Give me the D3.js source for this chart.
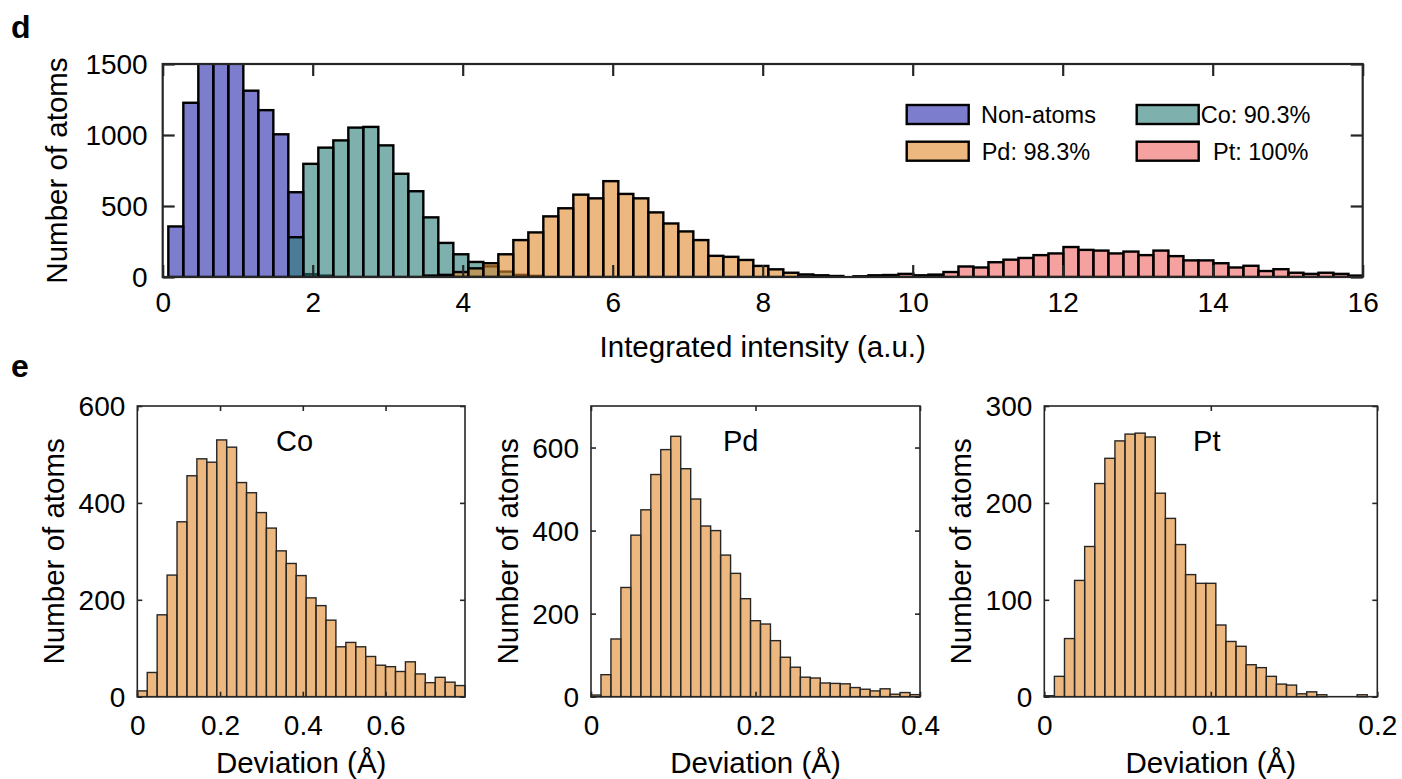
<!DOCTYPE html>
<html>
<head>
<meta charset="utf-8">
<script src="https://cdn.jsdelivr.net/npm/d3@7/dist/d3.min.js"></script>
<style>
  html, body { margin: 0; padding: 0; background: #fff; }
  svg { display: block; font-family: "Liberation Sans", Arial, Helvetica, sans-serif; }
</style>
</head>
<body>
<svg id="chart" width="1402" height="779"></svg>
<script>
// ---------------- DATA ----------------
// Panel d: integrated-intensity histograms (bin width 0.2 a.u.)
const intensityBinWidth = 0.2;
const nonAtomsStart = 0.075;
const nonAtomsCounts = [356, 1227, 1620, 1650, 1600, 1312, 1175, 1005, 597, 20, 10];
const coIntStart = 1.675;
const coIntCounts = [280, 797, 911, 962, 1052, 1057, 927, 727, 604, 420, 240, 160, 106, 75, 38, 15, 8];
const pdIntStart = 3.475;
const pdIntCounts = [10, 15, 35, 61, 97, 160, 260, 314, 427, 484, 580, 554, 675, 585, 554, 455, 377, 321, 260, 149, 142, 120, 78, 54, 30, 18, 12, 7];
const ptIntStart = 9.21;
const ptIntCounts = [5, 12, 14, 22, 12, 17, 35, 74, 67, 104, 122, 134, 154, 166, 211, 191, 186, 166, 179, 154, 186, 147, 117, 117, 97, 67, 79, 42, 55, 30, 22, 30, 22, 10];
const legendLabels = ["Non-atoms", "Co: 90.3%", "Pd: 98.3%", "Pt: 100%"];
const intensityXTicks = [0, 2, 4, 6, 8, 10, 12, 14, 16];
const intensityYTicks = [0, 500, 1000, 1500];

// Panel e: deviation histograms
const panelNames = ["Co", "Pd", "Pt"];
const coDevBinWidth = 0.024;
const coDevCounts = [12, 50, 169, 251, 361, 456, 491, 484, 530, 515, 442, 421, 380, 348, 301, 275, 250, 204, 188, 158, 103, 112, 103, 83, 65, 62, 52, 72, 47, 29, 40, 30, 23];
const pdDevBinWidth = 0.4 / 33;
const pdDevCounts = [4, 53, 139, 263, 389, 450, 535, 595, 627, 549, 476, 411, 400, 341, 297, 236, 183, 175, 135, 95, 71, 47, 45, 33, 32, 31, 22, 18, 14, 19, 6, 10, 5];
const ptDevBinWidth = 0.2 / 33;
const ptDevCounts = [1, 21, 60, 120, 155, 220, 246, 264, 271, 272, 268, 210, 184, 157, 126, 117, 117, 74, 57, 52, 33, 30, 21, 13, 12, 3, 5, 2, 0, 0, 0, 2, 0];
const coDevXTicks = [0, 0.2, 0.4, 0.6];
const pdDevXTicks = [0, 0.2, 0.4];
const ptDevXTicks = [0, 0.1, 0.2];
const coDevYTicks = [0, 200, 400, 600];
const pdDevYTicks = [0, 200, 400, 600];
const ptDevYTicks = [0, 100, 200, 300];

// ---------------- DRAW ----------------
const svg = d3.select("#chart");
const AX = "#262626";
const FONT_TICK = 28;
const FONT_LABEL = 29.5;

// ----- Panel d -----
const d = { left: 162.7, right: 1362.7, top: 64, bottom: 277 };
const xD = d3.scaleLinear().domain([0, 16]).range([d.left, d.right]);
const yD = d3.scaleLinear().domain([0, 1500]).range([d.bottom, d.top]);

svg.append("defs").append("clipPath").attr("id", "clipD")
  .append("rect").attr("x", d.left).attr("y", d.top)
  .attr("width", d.right - d.left).attr("height", d.bottom - d.top);

const seriesD = [
  { name: legendLabels[0], start: nonAtomsStart, counts: nonAtomsCounts, color: "#2626ad" },
  { name: legendLabels[1], start: coIntStart, counts: coIntCounts, color: "#287b76" },
  { name: legendLabels[2], start: pdIntStart, counts: pdIntCounts, color: "#e1892a" },
  { name: legendLabels[3], start: ptIntStart, counts: ptIntCounts, color: "#ed625f" }
];
const FILL_ALPHA = 0.6;

const gBars = svg.append("g").attr("clip-path", "url(#clipD)");
seriesD.forEach(s => {
  gBars.append("g").selectAll("rect").data(s.counts).join("rect")
    .attr("x", (c, i) => xD(s.start + i * intensityBinWidth))
    .attr("width", (c, i) => xD(s.start + (i + 1) * intensityBinWidth) - xD(s.start + i * intensityBinWidth))
    .attr("y", c => yD(c))
    .attr("height", c => yD(0) - yD(c))
    .attr("fill", s.color).attr("fill-opacity", FILL_ALPHA)
    .attr("stroke", "#000").attr("stroke-width", 2.4);
});

function drawFrame(xs, ys, box, xt, yt, tickLen, lw, xfmt, yfmt) {
  const g = svg.append("g");
  const ax = d3.axisBottom(xs).tickValues(xt).tickSizeInner(-tickLen).tickSizeOuter(0).tickFormat(xfmt);
  const gx = g.append("g").attr("transform", `translate(0,${box.bottom})`).call(ax);
  const ay = d3.axisLeft(ys).tickValues(yt).tickSizeInner(-tickLen).tickSizeOuter(0).tickFormat(yfmt);
  const gy = g.append("g").attr("transform", `translate(${box.left},0)`).call(ay);
  const axT = d3.axisTop(xs).tickValues(xt).tickSizeInner(-tickLen).tickSizeOuter(0).tickFormat("");
  const gt = g.append("g").attr("transform", `translate(0,${box.top})`).call(axT);
  const ayR = d3.axisRight(ys).tickValues(yt).tickSizeInner(-tickLen).tickSizeOuter(0).tickFormat("");
  const gr = g.append("g").attr("transform", `translate(${box.right},0)`).call(ayR);
  [gx, gy, gt, gr].forEach(a => {
    a.select(".domain").remove();
    a.selectAll(".tick line").attr("stroke", AX).attr("stroke-width", lw);
    a.selectAll(".tick text").attr("fill", "#000").attr("font-size", FONT_TICK)
      .attr("font-family", "Liberation Sans, Arial, sans-serif");
  });
  g.append("rect").attr("x", box.left).attr("y", box.top)
    .attr("width", box.right - box.left).attr("height", box.bottom - box.top)
    .attr("fill", "none").attr("stroke", AX).attr("stroke-width", lw);
  return { gx, gy };
}

const fD = drawFrame(xD, yD, d, intensityXTicks, intensityYTicks, 12, 2.2, d3.format("d"), d3.format("d"));
fD.gx.selectAll(".tick text").attr("dy", null).attr("y", 35);
fD.gy.selectAll(".tick text").attr("x", -15).attr("dy", "0.35em");

svg.append("text").attr("x", (d.left + d.right) / 2).attr("y", 357).attr("text-anchor", "middle")
  .attr("font-size", FONT_LABEL).attr("fill", "#000").text("Integrated intensity (a.u.)");
svg.append("text").attr("transform", `translate(67,${(d.top + d.bottom) / 2}) rotate(-90)`)
  .attr("text-anchor", "middle").attr("font-size", FONT_LABEL).attr("fill", "#000").text("Number of atoms");

// Legend
const legendPos = [
  { px: 906.7, py: 105, tx: 981 },
  { px: 1136.7, py: 105, tx: 1200.7 },
  { px: 906.7, py: 141.7, tx: 981.7 },
  { px: 1136.7, py: 141.7, tx: 1213 }
];
seriesD.forEach((s, i) => {
  const p = legendPos[i];
  svg.append("rect").attr("x", p.px).attr("y", p.py).attr("width", 62).attr("height", 19)
    .attr("fill", s.color).attr("fill-opacity", FILL_ALPHA).attr("stroke", "#000").attr("stroke-width", 2.4);
  svg.append("text").attr("x", p.tx).attr("y", p.py + 9.5).attr("dy", "0.36em")
    .attr("font-size", 23.5).attr("fill", "#000").text(s.name);
});

// Panel letters
svg.append("text").attr("x", 11).attr("y", 38).attr("font-size", 32).attr("font-weight", "bold").text("d");
svg.append("text").attr("x", 11).attr("y", 377).attr("font-size", 32).attr("font-weight", "bold").text("e");

// ----- Panel e -----
const panels = [
  { name: panelNames[0], box: { left: 137.3, right: 465, top: 406, bottom: 696.7 }, xMax: 0.792, yMax: 600,
    counts: coDevCounts, bw: coDevBinWidth, xt: coDevXTicks, yt: coDevYTicks, titleX: 0.38 },
  { name: panelNames[1], box: { left: 591, right: 920, top: 406, bottom: 696.7 }, xMax: 0.4, yMax: 700,
    counts: pdDevCounts, bw: pdDevBinWidth, xt: pdDevXTicks, yt: pdDevYTicks, titleX: 0.182 },
  { name: panelNames[2], box: { left: 1044.3, right: 1377.3, top: 406, bottom: 696.7 }, xMax: 0.2, yMax: 300,
    counts: ptDevCounts, bw: ptDevBinWidth, xt: ptDevXTicks, yt: ptDevYTicks, titleX: 0.0976 }
];

panels.forEach(P => {
  const b = P.box;
  const xs = d3.scaleLinear().domain([0, P.xMax]).range([b.left, b.right]);
  const ys = d3.scaleLinear().domain([0, P.yMax]).range([b.bottom, b.top]);
  svg.append("g").selectAll("rect").data(P.counts).join("rect")
    .attr("x", (c, i) => xs(i * P.bw))
    .attr("width", (c, i) => xs((i + 1) * P.bw) - xs(i * P.bw))
    .attr("y", c => ys(c))
    .attr("height", c => ys(0) - ys(c))
    .attr("fill", "#e1892a").attr("fill-opacity", FILL_ALPHA)
    .attr("stroke", "#262626").attr("stroke-width", 1.4);
  const f = drawFrame(xs, ys, b, P.xt, P.yt, 5, 1.6, d3.format(""), d3.format("d"));
  f.gx.selectAll(".tick text").attr("dy", null).attr("y", 38);
  f.gy.selectAll(".tick text").attr("x", -12).attr("dy", "0.35em");
  svg.append("text").attr("x", xs(P.titleX)).attr("y", 451).attr("text-anchor", "middle")
    .attr("font-size", 29).attr("fill", "#000").text(P.name);
  svg.append("text").attr("x", (b.left + b.right) / 2).attr("y", 773).attr("text-anchor", "middle")
    .attr("font-size", FONT_LABEL).attr("fill", "#000").text("Deviation (Å)");
  svg.append("text").attr("transform", `translate(${b.left - 73},${(b.top + b.bottom) / 2}) rotate(-90)`)
    .attr("text-anchor", "middle").attr("font-size", FONT_LABEL).attr("fill", "#000").text("Number of atoms");
});
</script>
</body>
</html>
